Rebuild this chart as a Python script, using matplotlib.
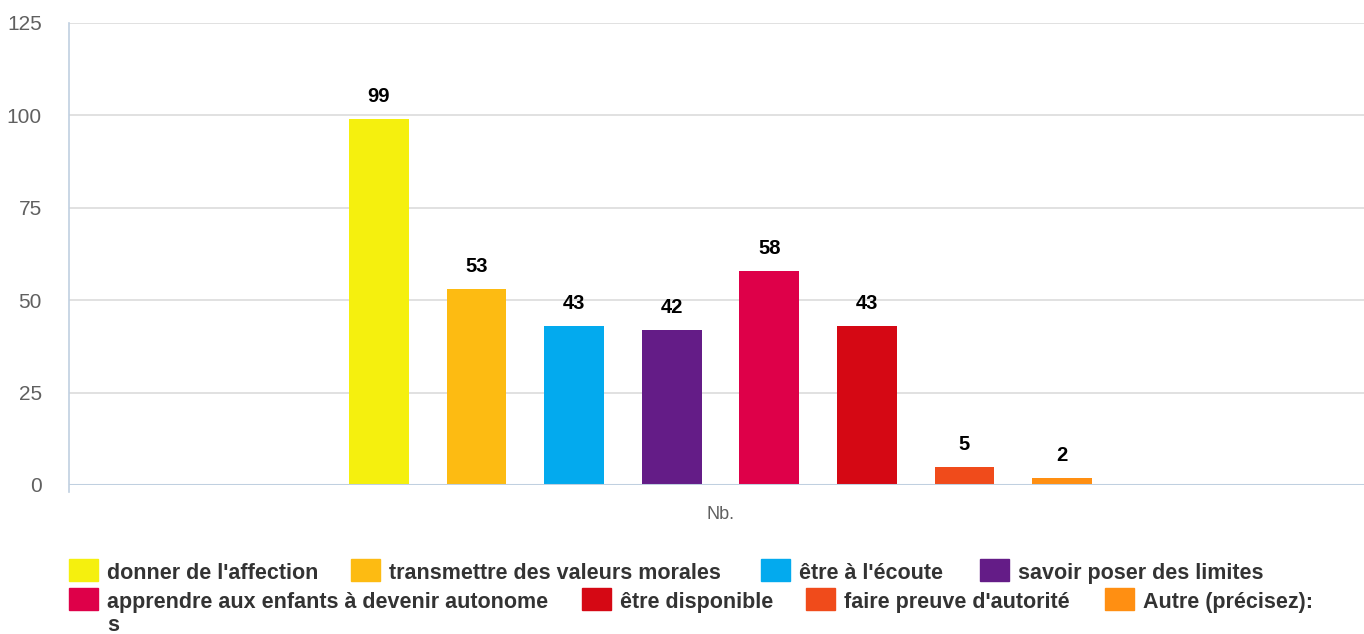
import matplotlib
matplotlib.use("Agg")
import matplotlib.pyplot as plt
from matplotlib.patches import Rectangle
import numpy as np

plt.rcParams["font.family"] = ["Liberation Sans", "DejaVu Sans"]

category = "Nb."
labels = ["donner de l'affection", "transmettre des valeurs morales", "être à l'écoute",
          "savoir poser des limites", "apprendre aux enfants à devenir autonome",
          "être disponible", "faire preuve d'autorité", "Autre (précisez):"]
values = [99, 53, 43, 42, 58, 43, 5, 2]
colors = ["#F5F00E", "#FDBB12", "#03AAEE", "#641C87", "#DE0049", "#D50814", "#F04B1B", "#FF8F12"]
yticks = [0, 25, 50, 75, 100, 125]

W, H = 1364, 634
fig = plt.figure(figsize=(W / 100, H / 100), dpi=100)
ax = fig.add_axes([69 / W, (H - 485) / H, (1372 - 69) / W, (485 - 23) / H])

n = len(values)
step, width = 0.0749, 0.046
xs = (np.arange(n) - (n - 1) / 2) * step
ax.bar(xs, values, width=width, color=colors, zorder=3)
for x, v in zip(xs, values):
    ax.text(x, v + 3.5, str(v), ha="center", va="bottom", fontsize=14.5,
            fontweight="bold", color="black")

ax.set_xlim(-0.5, 0.5)
ax.set_ylim(0, 125)
ax.set_yticks(yticks)
ax.set_yticklabels([str(t) for t in yticks], fontsize=15, color="#606060")
ax.tick_params(axis="y", length=0, pad=19.5)
ax.set_xticks([0])
ax.set_xticklabels([category], fontsize=13, color="#606060")
ax.tick_params(axis="x", length=0, pad=15)
ax.grid(axis="y", color="#DCDCDC", lw=1.2, zorder=0)
for s in ax.spines.values():
    s.set_visible(False)
ax.axhline(0, color="#C0D0E0", lw=2.2, zorder=4)
ax.plot([0, 0], [-0.016, 1], transform=ax.transAxes, color="#C0D0E0", lw=1.2, clip_on=False)

# legend, laid out in flowing rows like the original
leg_x = [69, 351, 761, 980, 69, 582, 806, 1105]
leg_y = [570, 570, 570, 570, 599, 599, 599, 599]
for lab, c, lx, ly in zip(labels, colors, leg_x, leg_y):
    fig.patches.append(Rectangle((lx / W, 1 - (ly + 11) / H), 29 / W, 22 / H,
                                 transform=fig.transFigure, color=c))
    fig.text((lx + 38) / W, 1 - (ly + 9) / H, lab, fontsize=15.5, fontweight="bold",
             color="#333333", va="baseline", ha="left")
fig.text(107 / W, 1 - 631 / H, "s", fontsize=15.5, fontweight="bold",
         color="#333333", va="baseline", ha="left")

fig.savefig("out.png", dpi=100)
